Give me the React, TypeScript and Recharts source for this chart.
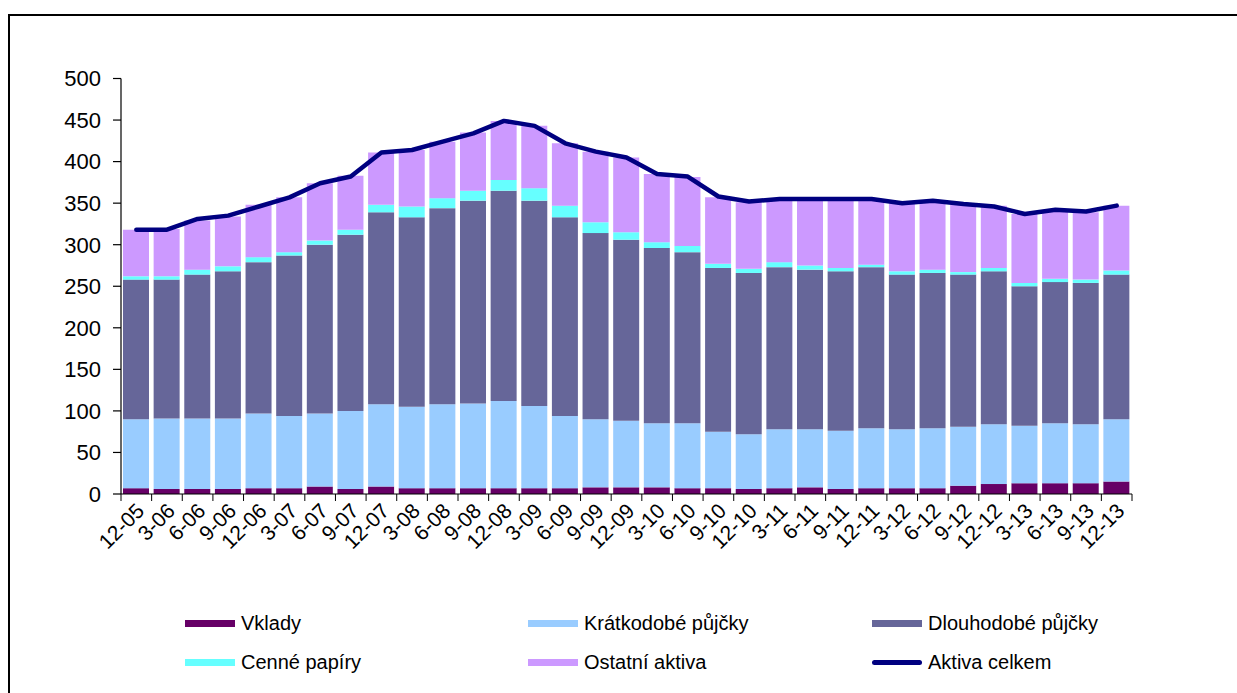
import React from 'react';
import { ComposedChart, Bar, Line, XAxis, YAxis, Legend } from 'recharts';

const categories = ['12-05','3-06','6-06','9-06','12-06','3-07','6-07','9-07','12-07','3-08','6-08','9-08','12-08','3-09','6-09','9-09','12-09','3-10','6-10','9-10','12-10','3-11','6-11','9-11','12-11','3-12','6-12','9-12','12-12','3-13','6-13','9-13','12-13'];
const vklady = [7,6,6,6,7,7,9,6,9,7,7,7,7,7,7,8,8,8,7,7,6,7,8,6,7,7,7,10,12,13,13,13,15];
const kratkodobe = [83,85,85,85,90,87,88,94,99,98,101,102,105,99,87,82,80,77,78,68,66,71,70,70,72,71,72,71,72,69,72,71,75];
const dlouhodobe = [168,167,173,177,182,193,203,212,231,228,236,244,253,247,239,224,218,211,206,197,194,195,192,192,194,186,187,183,184,168,170,170,174];
const cenne = [4,4,6,6,6,4,5,6,9,13,12,12,13,15,14,13,9,7,7.5,5,5,6,5,4,3,4,4,3,4,4,4,4,5];
const ostatni = [56,57,59,60,63,66,69,65,63,68,68,70,71,75,75,85,90,82,83,80,80,75,80,82,79,82,83,82,75,83,83,81,78];
const aktivaCelkem = [318,318,331,335,346,357,374,382,411,414,424,434,449,443,422,412,405,385,382,358,352,355,355,355,355,350,353,349,346,337,342,340,347];
const yTicks = [0,50,100,150,200,250,300,350,400,450,500];

const seriesNames = ['Vklady','Krátkodobé půjčky','Dlouhodobé půjčky','Cenné papíry','Ostatní aktiva','Aktiva celkem'];
const seriesColors = ['#660066','#99CCFF','#666699','#66FFFF','#CC99FF','#000080'];

const data = categories.map((c, i) => ({
  cat: c,
  vklady: vklady[i],
  kratkodobe: kratkodobe[i],
  dlouhodobe: dlouhodobe[i],
  cenne: cenne[i],
  ostatni: ostatni[i],
  total: aktivaCelkem[i],
}));

const W = 1237;
const H = 693;
const margin = { top: 78.5, right: 105, bottom: 139, left: 21 };
const yAxisWidth = 100;
const plotWidth = W - margin.left - yAxisWidth - margin.right;
const band = plotWidth / categories.length;
const FONT = '"Liberation Sans", Arial, sans-serif';

function XTick(props: any) {
  const { x, y, payload, index } = props;
  const tx = x + 4;
  const ty = y + 13;
  return (
    <g>
      <line x1={x - band / 2} x2={x - band / 2} y1={y} y2={y + 7} stroke="#000" strokeWidth={1} />
      {index === categories.length - 1 && (
        <line x1={x + band / 2} x2={x + band / 2} y1={y} y2={y + 7} stroke="#000" strokeWidth={1} />
      )}
      <text
        x={tx}
        y={ty}
        dy="0.35em"
        textAnchor="end"
        transform={`rotate(-45 ${tx} ${ty})`}
        fontSize={21}
        fontFamily={FONT}
        fill="#000"
      >
        {payload.value}
      </text>
    </g>
  );
}

const legendCols = [185, 528, 872];
const legendRows = [23, 62];

function LegendContent() {
  return (
    <div style={{ position: 'relative', width: W, height: 90, fontFamily: FONT }}>
      {seriesNames.map((name, i) => {
        const col = i % 3;
        const row = Math.floor(i / 3);
        const isLine = i === seriesNames.length - 1;
        return (
          <div
            key={name}
            style={{
              position: 'absolute',
              left: legendCols[col],
              top: legendRows[row] - 12,
              height: 24,
              display: 'flex',
              alignItems: 'center',
              whiteSpace: 'nowrap',
            }}
          >
            <div
              style={{
                width: 50,
                height: isLine ? 5 : 7,
                background: seriesColors[i],
                borderRadius: isLine ? 3 : 0,
                marginRight: 6,
              }}
            />
            <span style={{ fontSize: 20, color: '#000', lineHeight: '24px' }}>{name}</span>
          </div>
        );
      })}
    </div>
  );
}

export default function App() {
  return (
    <div style={{ position: 'absolute', left: 0, top: 0, width: W, height: H, overflow: 'hidden', background: '#fff' }}>
      <div
        style={{
          position: 'absolute',
          left: 8,
          top: 14,
          width: W + 20,
          height: H + 20,
          border: '2px solid #000',
          boxSizing: 'border-box',
        }}
      />
      <div style={{ position: 'absolute', left: 0, top: 0 }}>
        <ComposedChart width={W} height={H} data={data} margin={margin}>
          <XAxis
            dataKey="cat"
            interval={0}
            tickLine={false}
            tickSize={0}
            tickMargin={0}
            height={60}
            axisLine={{ stroke: '#000', strokeWidth: 1.2 }}
            tick={<XTick />}
          />
          <YAxis
            domain={[0, 500]}
            ticks={yTicks}
            interval={0}
            width={yAxisWidth}
            tickSize={8}
            tickMargin={12}
            axisLine={{ stroke: '#000', strokeWidth: 1.2 }}
            tickLine={{ stroke: '#000', strokeWidth: 1.2 }}
            tick={{ fontSize: 22, fill: '#000', fontFamily: FONT }}
          />
          <Bar dataKey="vklady" name={seriesNames[0]} stackId="a" fill={seriesColors[0]} barSize={26} isAnimationActive={false} />
          <Bar dataKey="kratkodobe" name={seriesNames[1]} stackId="a" fill={seriesColors[1]} barSize={26} isAnimationActive={false} />
          <Bar dataKey="dlouhodobe" name={seriesNames[2]} stackId="a" fill={seriesColors[2]} barSize={26} isAnimationActive={false} />
          <Bar dataKey="cenne" name={seriesNames[3]} stackId="a" fill={seriesColors[3]} barSize={26} isAnimationActive={false} />
          <Bar dataKey="ostatni" name={seriesNames[4]} stackId="a" fill={seriesColors[4]} barSize={26} isAnimationActive={false} />
          <Line
            dataKey="total"
            name={seriesNames[5]}
            type="linear"
            stroke={seriesColors[5]}
            strokeWidth={4.5}
            strokeLinejoin="round"
            strokeLinecap="round"
            dot={false}
            activeDot={false}
            isAnimationActive={false}
          />
          <Legend
            layout="horizontal"
            verticalAlign="middle"
            align="center"
            wrapperStyle={{ top: 600, left: 0, width: W, height: 90 }}
            content={<LegendContent />}
          />
        </ComposedChart>
      </div>
    </div>
  );
}
